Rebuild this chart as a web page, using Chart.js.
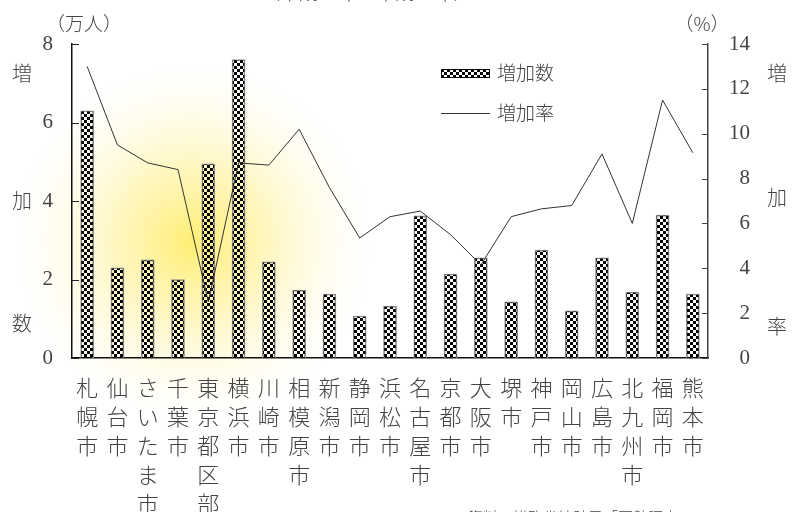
<!DOCTYPE html>
<html>
<head>
<meta charset="utf-8">
<script src="https://cdn.jsdelivr.net/npm/chart.js@4.4.1/dist/chart.umd.min.js"></script>
<style>
  html, body { margin: 0; padding: 0; background: #fff; }
  #wrap { width: 792px; height: 512px; }
</style>
</head>
<body>
<div id="wrap"><canvas id="c" width="792" height="512"></canvas></div>
<script>
// data
const cities = ['札幌市', '仙台市', 'さいたま市', '千葉市', '東京都区部', '横浜市', '川崎市', '相模原市', '新潟市', '静岡市',
    '浜松市', '名古屋市', '京都市', '大阪市', '堺市', '神戸市', '岡山市', '広島市', '北九州市', '福岡市', '熊本市'];
const increase = [6.3, 2.3, 2.5, 2.0, 4.95, 7.6, 2.45, 1.73, 1.63, 1.07,
    1.32, 3.62, 2.14, 2.55, 1.43, 2.75, 1.2, 2.55, 1.68, 3.64, 1.63];
const increaseRate = [13.0, 9.5, 8.7, 8.4, 2.5, 8.7, 8.6, 10.2, 7.6, 5.35,
    6.3, 6.55, 5.5, 4.15, 6.3, 6.65, 6.8, 9.1, 6.0, 11.5, 9.15];
const leftTicks = [0, 2, 4, 6, 8];
const rightTicks = [0, 2, 4, 6, 8, 10, 12, 14];

const serif = "'Liberation Serif', 'DejaVu Serif', serif";
const cjk = "'Noto Sans CJK JP', 'Noto Sans CJK SC', sans-serif";
const textColor = '#444';

// checkerboard fill for the bars
function checker() {
    const p = document.createElement('canvas');
    p.width = 6; p.height = 6;
    const g = p.getContext('2d');
    g.fillStyle = '#000';
    g.fillRect(0, 0, 3, 3);
    g.fillRect(3, 3, 3, 3);
    return document.getElementById('c').getContext('2d').createPattern(p, 'repeat');
}
const pattern = checker();

const decor = {
    id: 'decor',
    beforeDraw(chart) {
        const ctx = chart.ctx;
        ctx.save();
        ctx.fillStyle = '#fff';
        ctx.fillRect(0, 0, chart.width, chart.height);
        // soft yellow glow behind the left part of the chart
        const gr = ctx.createRadialGradient(192, 242, 0, 192, 242, 178);
        gr.addColorStop(0, 'rgba(255,238,115,1)');
        gr.addColorStop(0.45, 'rgba(255,244,170,0.7)');
        gr.addColorStop(1, 'rgba(255,250,225,0)');
        ctx.fillStyle = gr;
        ctx.fillRect(0, 0, chart.width, chart.height);
        ctx.restore();
    },
    afterDraw(chart) {
        const ctx = chart.ctx;
        const y = chart.scales.y, y1 = chart.scales.y1;
        const area = chart.chartArea;
        ctx.save();
        // inward tick marks
        ctx.lineWidth = 1;
        ctx.strokeStyle = '#222';
        leftTicks.forEach(v => {
            const py = Math.round(y.getPixelForValue(v)) + 0.5;
            ctx.beginPath(); ctx.moveTo(area.left, py); ctx.lineTo(area.left + 7, py); ctx.stroke();
        });
        ctx.strokeStyle = '#444';
        rightTicks.forEach(v => {
            const py = Math.round(y1.getPixelForValue(v)) + 0.5;
            ctx.beginPath(); ctx.moveTo(area.right - 6, py); ctx.lineTo(area.right, py); ctx.stroke();
        });

        // axis titles and units
        ctx.fillStyle = textColor;
        ctx.textBaseline = 'middle';
        ctx.textAlign = 'center';
        ctx.font = '300 20px ' + cjk;
        [['増', 73], ['加', 200], ['数', 323]].forEach(([t, py]) => ctx.fillText(t, 22, py));
        [['増', 73], ['加', 197], ['率', 326]].forEach(([t, py]) => ctx.fillText(t, 777, py));
        ctx.font = '300 19px ' + cjk;
        ctx.fillText('（万人）', 84, 24);
        ctx.fillText('（%）', 702, 24);
        ctx.fillText('（平成17年～平成22年）', 367, -7);
        ctx.textAlign = 'left';
        ctx.font = '300 15px ' + cjk;
        ctx.fillText('資料：総務省統計局「国勢調査」', 468, 517);

        // legend
        ctx.fillStyle = pattern;
        ctx.fillRect(441, 69, 49, 9);
        ctx.strokeStyle = '#000';
        ctx.strokeRect(441.5, 69.5, 48, 8);
        ctx.strokeStyle = '#333';
        ctx.beginPath(); ctx.moveTo(441, 113.5); ctx.lineTo(490, 113.5); ctx.stroke();
        ctx.fillStyle = textColor;
        ctx.font = '300 19px ' + cjk;
        ctx.fillText('増加数', 497, 73);
        ctx.fillText('増加率', 497, 113);
        ctx.restore();
    }
};

new Chart(document.getElementById('c'), {
    data: {
        labels: cities.map(c => c.split('')),
        datasets: [
            {
                type: 'line',
                label: '増加率',
                data: increaseRate,
                yAxisID: 'y1',
                borderColor: '#333',
                borderWidth: 1,
                pointRadius: 0,
                tension: 0,
                order: 0
            },
            {
                type: 'bar',
                label: '増加数',
                data: increase,
                yAxisID: 'y',
                backgroundColor: pattern,
                borderColor: '#888',
                borderWidth: 1,
                barThickness: 13,
                order: 1
            }
        ]
    },
    options: {
        responsive: false,
        animation: false,
        layout: { padding: { top: 44, left: 0, right: 42, bottom: 0 } },
        plugins: { legend: { display: false }, tooltip: { enabled: false } },
        scales: {
            x: {
                grid: { display: false, drawTicks: false },
                border: { display: true, color: '#111', width: 1.5 },
                ticks: {
                    autoSkip: false, maxRotation: 0, minRotation: 0,
                    color: textColor, padding: 15,
                    font: { family: cjk, size: 22, weight: '300', lineHeight: 1.32 }
                },
                afterFit(s) { s.height = 154; }
            },
            y: {
                position: 'left',
                min: 0, max: 8,
                grid: { display: false, drawTicks: false },
                border: { display: true, color: '#111', width: 1.5 },
                ticks: {
                    stepSize: 2, padding: 19, color: textColor,
                    font: { family: serif, size: 21 }
                },
                afterFit(s) { s.width = 72; }
            },
            y1: {
                position: 'right',
                min: 0, max: 14,
                grid: { display: false, drawTicks: false },
                border: { display: true, color: '#444', width: 1.5 },
                ticks: {
                    stepSize: 2, padding: 20, crossAlign: 'far', color: textColor,
                    font: { family: serif, size: 21 }
                },
                afterFit(s) { s.width = 42; }
            }
        }
    },
    plugins: [decor]
});
</script>
</body>
</html>
